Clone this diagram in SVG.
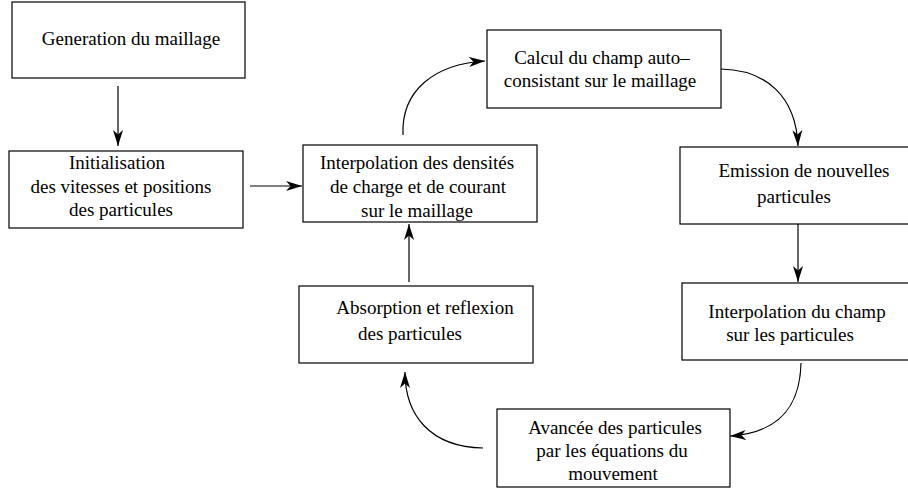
<svg xmlns="http://www.w3.org/2000/svg" width="908" height="492" viewBox="0 0 908 492">
<style>
.box{fill:#fff;stroke:#000;stroke-width:1.2}
.t{font-family:"Liberation Serif","Times New Roman",serif;font-size:19px;fill:#000;text-anchor:middle}
.c{fill:none;stroke:#000;stroke-width:1.2;marker-end:url(#ah)}
</style>
<defs>
<marker id="ah" markerUnits="userSpaceOnUse" viewBox="0 0 16 11" refX="16" refY="5.5" markerWidth="16" markerHeight="11" orient="auto">
<path d="M16,5.5 L0,0.5 L4.5,5.5 L0,10.5 Z" fill="#000"/>
</marker>
</defs>
<rect width="908" height="492" fill="#fff"/>
<g id="n1"><rect class="box" x="12" y="2" width="233" height="76"/><text class="t" x="131" y="45" font-family="Liberation Serif">Generation du maillage</text></g>
<g id="n2"><rect class="box" x="9" y="151" width="234" height="77"/><text class="t" x="117" y="169">Initialisation</text><text class="t" x="121" y="193">des vitesses et positions</text><text class="t" x="121" y="216">des particules</text></g>
<g id="n3"><rect class="box" x="303" y="145" width="234" height="77"/><text class="t" x="417" y="169">Interpolation des densités</text><text class="t" x="418" y="193">de charge et de courant</text><text class="t" x="417" y="217">sur le maillage</text></g>
<g id="n4"><rect class="box" x="487" y="30" width="234" height="78"/><text class="t" x="602" y="64">Calcul du champ auto–</text><text class="t" x="600" y="87">consistant sur le maillage</text></g>
<g id="n5"><rect class="box" x="680" y="147" width="234" height="77"/><text class="t" x="804" y="177">Emission de nouvelles</text><text class="t" x="794" y="203">particules</text></g>
<g id="n6"><rect class="box" x="682" y="283" width="234" height="77"/><text class="t" x="797" y="318">Interpolation du champ</text><text class="t" x="790" y="341">sur les particules</text></g>
<g id="n7"><rect class="box" x="497" y="409" width="233" height="78"/><text class="t" x="615" y="434">Avancée des particules</text><text class="t" x="612" y="457">par les équations du</text><text class="t" x="613" y="480">mouvement</text></g>
<g id="n8"><rect class="box" x="299" y="286" width="234" height="77"/><text class="t" x="425" y="314">Absorption et reflexion</text><text class="t" x="410" y="340">des particules</text></g>
<g id="connectors">
<path class="c" d="M118,86 L118,146"/>
<path class="c" d="M250,186 L302,186"/>
<path class="c" d="M403,135 C401,90 435,64 485,61"/>
<path class="c" d="M721,69 C766,70 796,96 798,146"/>
<path class="c" d="M798,224 L798,282"/>
<path class="c" d="M801,363 C800,410 776,433 730,436"/>
<path class="c" d="M483,448 C430,447 405,415 405,372"/>
<path class="c" d="M409,282 L409,224"/>
</g>
</svg>
